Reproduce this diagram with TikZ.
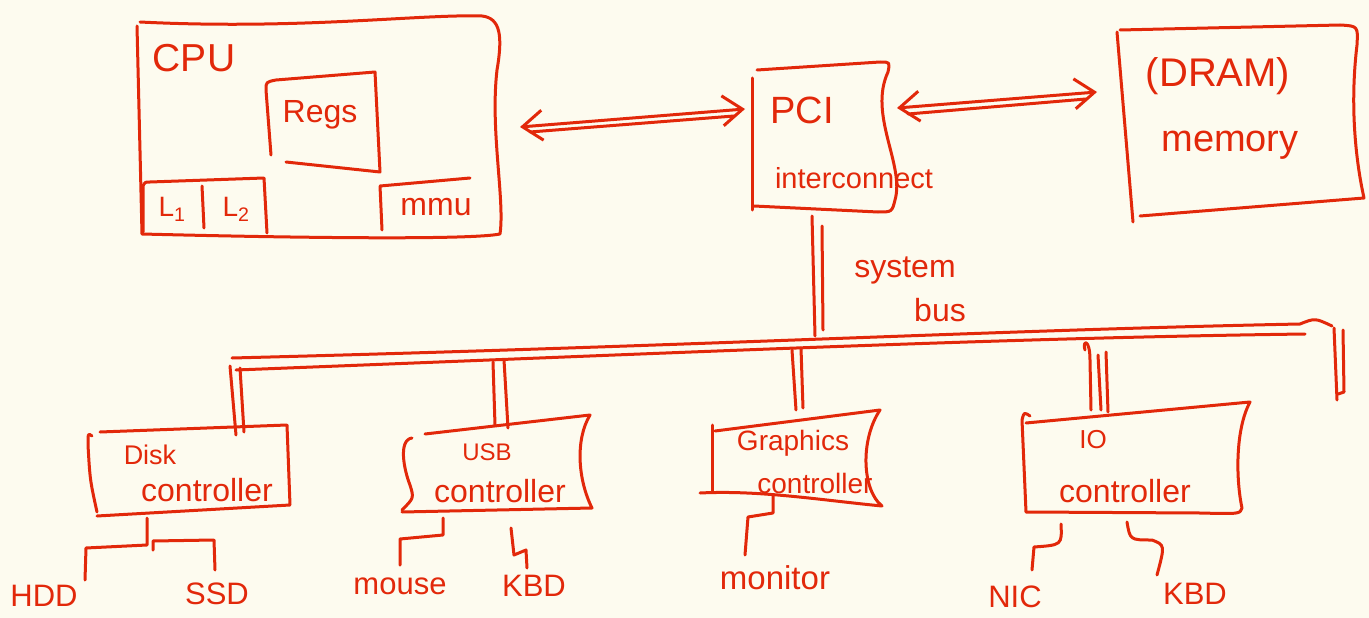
\documentclass[tikz,border=0pt]{standalone}
\usepackage{fontspec}
\setmainfont{Liberation Sans}
\usetikzlibrary{arrows.meta}
\definecolor{ink}{HTML}{E2280A}
\definecolor{paper}{HTML}{FDFBEF}
\newcommand{\fsz}[1]{\fontsize{#1}{#1}\selectfont}
\begin{document}
\begin{tikzpicture}[x=1pt,y=-1pt,
  ink/.style={draw=ink, line width=3pt, line cap=round, line join=round},
  lbl/.style={text=ink, inner sep=0pt},
  dbl/.style={ink, {Straight Barb[length=20pt,width=30pt]}-{Straight Barb[length=20pt,width=30pt]}}]
\fill[paper] (0,0) rectangle (1369,618);
\useasboundingbox (0,0) rectangle (1369,618);

% ---------- CPU ----------
\draw[ink] (140,22) .. controls (300,30) and (420,14) .. (482,16)
  .. controls (500,18) and (503,35) .. (497,70)
  .. controls (490,130) and (505,200) .. (500,234)
  .. controls (470,240) and (300,238) .. (142,234) -- (137,26);
\node[lbl,font=\fsz{39}] (cpu) at (194,58) {CPU};
% Regs
\draw[ink] (271,155) -- (266,90) .. controls (266,82) .. (276,80) -- (375,72) -- (380,172) -- (286,162);
\node[lbl,font=\fsz{32}] (regs) at (320,115) {Regs};
% L1 | L2
\draw[ink] (143,232) -- (143,186) .. controls (145,182) .. (150,182) -- (264,178) -- (267,233);
\draw[ink] (202,186) -- (204,228);
\node[lbl,font=\fsz{28}] (l1) at (172,209) {L\textsubscript{1}};
\node[lbl,font=\fsz{28}] (l2) at (236,209) {L\textsubscript{2}};
% mmu
\draw[ink] (382,230) -- (380,186) -- (470,178);
\node[lbl,font=\fsz{32}] (mmu) at (436,207) {mmu};

% ---------- PCI ----------
\draw[ink] (752,210) -- (752,78);
\draw[ink] (757,70) -- (880,62) .. controls (890,62) .. (888,72)
  .. controls (868,115) and (905,165) .. (895,200)
  .. controls (892,212) .. (878,212) -- (754,206);
\node[lbl,font=\fsz{38}] (pci) at (802,110) {PCI};
\node[lbl,font=\fsz{29}] (ic) at (854,178) {interconnect};

% ---------- memory ----------
\draw[ink] (1120,30) -- (1340,25) .. controls (1358,26) .. (1357,45)
  .. controls (1348,120) and (1360,180) .. (1364,198) -- (1140,216);
\draw[ink] (1117,32) -- (1133,222);
\node[lbl,font=\fsz{40}] (dram) at (1218,76) {(DRAM)};
\node[lbl,font=\fsz{38}] (memtxt) at (1230,145) {memory};

% ---------- arrows ----------
\coordinate (cpuR) at (520,127);
\coordinate (pciL) at (745,109);
\coordinate (cpuR2) at (530,132);
\coordinate (pciL2) at (734,116);
\draw[dbl] (cpuR) -- (pciL);
\draw[ink] (cpuR2) -- (pciL2);
\coordinate (pciR) at (897,108);
\coordinate (memL) at (1097,92);
\coordinate (pciR2) at (908,114);
\coordinate (memL2) at (1086,99);
\draw[dbl] (pciR) -- (memL);
\draw[ink] (pciR2) -- (memL2);

% ---------- system bus ----------
\coordinate (sb1a) at (812,216); \coordinate (sb1b) at (815,336);
\coordinate (sb2a) at (822,226); \coordinate (sb2b) at (823,330);
\draw[ink] (sb1a) -- (sb1b);
\draw[ink] (sb2a) -- (sb2b);
\node[lbl,font=\fsz{32}] (systxt) at (905,270) {system};
\node[lbl,font=\fsz{32}] (bustxt) at (940,310) {bus};

\coordinate (busA1) at (232,358); \coordinate (busB1) at (1300,324);
\coordinate (busA2) at (236,370); \coordinate (busB2) at (1305,334);
\draw[ink] (busA1) .. controls (700,346) and (1000,330) .. (busB1)
  .. controls (1315,318) .. (1332,326);
\draw[ink] (busA2) .. controls (700,352) and (1000,338) .. (busB2);
\coordinate (rt1a) at (1334,328); \coordinate (rt1b) at (1337,400);
\coordinate (rt2a) at (1343,330); \coordinate (rt2b) at (1344,392);
\draw[ink] (rt1a) -- (rt1b);
\draw[ink] (rt2a) -- (rt2b) -- (1338,394);

% drops
\coordinate (d1a) at (230,366); \coordinate (d1b) at (236,435);
\coordinate (d2a) at (240,368); \coordinate (d2b) at (244,432);
\draw[ink] (d1a) -- (d1b); \draw[ink] (d2a) -- (d2b);
\coordinate (u1a) at (493,362); \coordinate (u1b) at (495,425);
\coordinate (u2a) at (504,360); \coordinate (u2b) at (508,428);
\draw[ink] (u1a) -- (u1b); \draw[ink] (u2a) -- (u2b);
\coordinate (g1a) at (792,350); \coordinate (g1b) at (796,410);
\coordinate (g2a) at (801,348); \coordinate (g2b) at (803,408);
\draw[ink] (g1a) -- (g1b); \draw[ink] (g2a) -- (g2b);
\coordinate (i1a) at (1085,350); \coordinate (i1b) at (1091,410);
\coordinate (i2a) at (1098,355); \coordinate (i2b) at (1101,410);
\coordinate (i3a) at (1106,352); \coordinate (i3b) at (1108,412);
\draw[ink] (i1a) .. controls (1082,340) and (1090,338) .. (1090,360) -- (i1b);
\draw[ink] (i2a) -- (i2b); \draw[ink] (i3a) -- (i3b);

% ---------- Disk controller ----------
\draw[ink] (100,432) -- (287,425) -- (290,505) -- (97,516);
\draw[ink] (92,436) .. controls (88,433) .. (88,445) .. controls (90,480) .. (97,512);
\node[lbl,font=\fsz{27}] (disk) at (150,455) {Disk};
\node[lbl,font=\fsz{32}] (dctl) at (207,490) {controller};
\coordinate (dbot) at (147,518);
\node[lbl,font=\fsz{31}] (hdd) at (44,596) {HDD};
\node[lbl,font=\fsz{31}] (ssd) at (217,594) {SSD};
\coordinate (hddtop) at (85,580);
\coordinate (ssdtop) at (215,570);
\draw[ink] (dbot) -- (147,545) -- (86,548) -- (hddtop);
\draw[ink] (153,550) -- (153,541) -- (214,540) -- (ssdtop);

% ---------- USB controller ----------
\draw[ink] (425,434) -- (590,415) .. controls (575,440) and (578,480) .. (592,508) -- (402,512);
\draw[ink] (412,438) .. controls (398,440) and (404,470) .. (410,485) .. controls (414,498) .. (402,510);
\node[lbl,font=\fsz{24}] (usb) at (487,452) {USB};
\node[lbl,font=\fsz{32}] (uctl) at (500,491) {controller};
\coordinate (ubot1) at (443,518);
\coordinate (ubot2) at (511,528);
\node[lbl,font=\fsz{31}] (mouse) at (400,586) {mouse};
\node[lbl,font=\fsz{31}] (kbd1) at (534,586) {KBD};
\coordinate (mousetop) at (400,565);
\coordinate (kbd1top) at (527,568);
\draw[ink] (ubot1) -- (443,535) -- (400,539) -- (mousetop);
\draw[ink] (ubot2) -- (514,555) -- (526,550) -- (kbd1top);

% ---------- Graphics controller ----------
\draw[ink] (712,492) -- (712,425);
\draw[ink] (715,431) -- (880,410) .. controls (860,440) and (862,490) .. (882,506)
  .. controls (820,500) and (760,490) .. (700,493);
\node[lbl,font=\fsz{28}] (gfx) at (793,443) {Graphics};
\node[lbl,font=\fsz{28}] (gctl) at (815,483) {controller};
\coordinate (gbot) at (773,496);
\node[lbl,font=\fsz{33}] (mon) at (775,578) {monitor};
\coordinate (montop) at (745,555);
\draw[ink] (gbot) -- (773,513) -- (748,517) -- (montop);

% ---------- IO controller ----------
\draw[ink] (1026,423) -- (1250,402) .. controls (1235,430) and (1236,480) .. (1242,508)
  .. controls (1240,514) .. (1200,513) -- (1026,512) -- (1022,420) .. controls (1024,412) .. (1030,416);
\node[lbl,font=\fsz{26}] (io) at (1093,440) {IO};
\node[lbl,font=\fsz{32}] (ioctl) at (1125,491) {controller};
\coordinate (iobot1) at (1061,524);
\coordinate (iobot2) at (1127,522);
\node[lbl,font=\fsz{31}] (nic) at (1015,597) {NIC};
\node[lbl,font=\fsz{31}] (kbd2) at (1195,594) {KBD};
\coordinate (nictop) at (1032,570);
\coordinate (kbd2top) at (1157,575);
\draw[ink] (iobot1) .. controls (1062,545) .. (1034,547) -- (nictop);
\draw[ink] (iobot2) .. controls (1130,540) .. (1152,540) .. controls (1165,545) .. (kbd2top);
\end{tikzpicture}
\end{document}
